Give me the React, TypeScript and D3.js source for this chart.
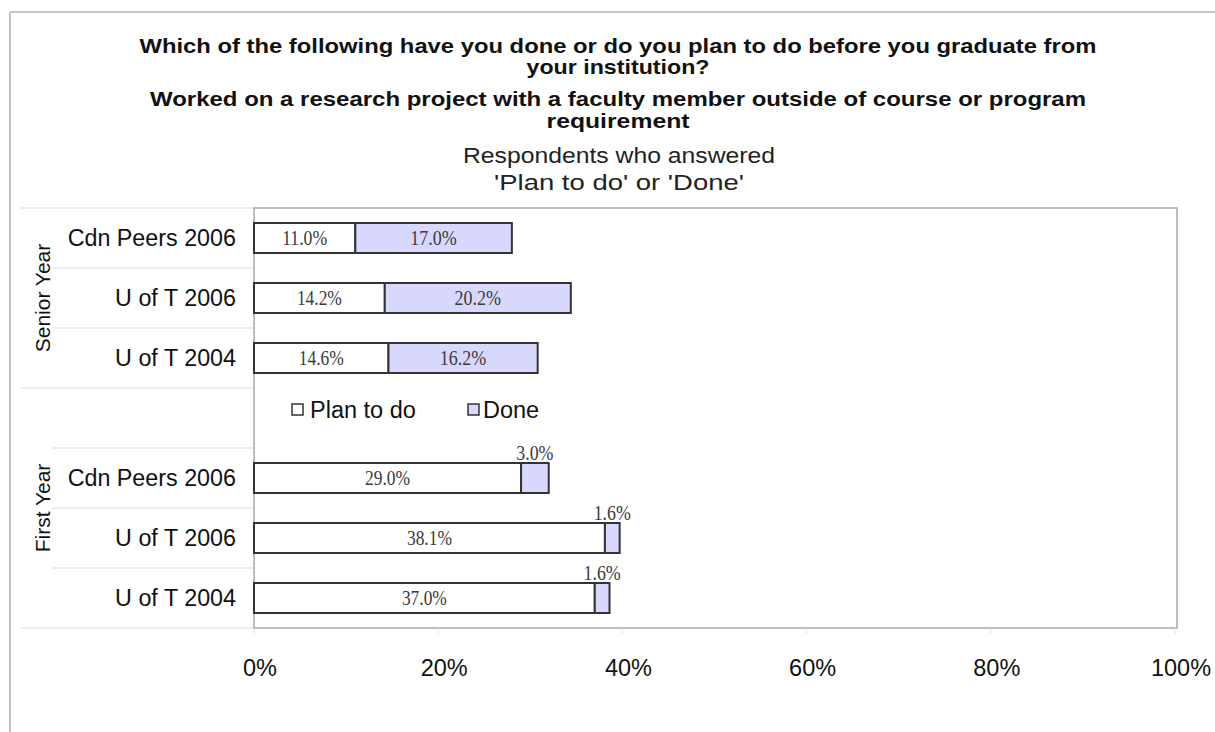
import React from "react";
import * as d3 from "d3";

const titleLines = [
  "Which of the following have you done or do you plan to do before you graduate from",
  "your institution?",
  "Worked on a research project with a faculty member outside of course or program",
  "requirement",
];
const subtitleLines = ["Respondents who answered", "'Plan to do' or 'Done'"];

const seniorCategories = ["Cdn Peers 2006", "U of T 2006", "U of T 2004"];
const seniorPlan = [11.0, 14.2, 14.6];
const seniorDone = [17.0, 20.2, 16.2];

const firstCategories = ["Cdn Peers 2006", "U of T 2006", "U of T 2004"];
const firstPlan = [29.0, 38.1, 37.0];
const firstDone = [3.0, 1.6, 1.6];

const groupLabels = ["Senior Year", "First Year"];
const seriesNames = ["Plan to do", "Done"];
const tickValues = [0, 20, 40, 60, 80, 100];

const W = 1215;
const H = 732;
const plotLeft = 254;
const plotRight = 1177;
const plotTop = 208;
const plotBottom = 628;

const rowKeys = ["S0", "S1", "S2", "gap", "F0", "F1", "F2"];

type Row = { key: string; label: string; plan: number; done: number };
const rows: Row[] = [
  ...seniorCategories.map((c, i) => ({ key: "S" + i, label: c, plan: seniorPlan[i], done: seniorDone[i] })),
  ...firstCategories.map((c, i) => ({ key: "F" + i, label: c, plan: firstPlan[i], done: firstDone[i] })),
];

const titleWidths = [957, 183, 936, 143];
const titleBaselines = [53, 74, 106, 128];
const subWidths = [312, 250];
const subBaselines = [163, 190];

export default function App() {
  const x = d3.scaleLinear().domain([0, 100]).range([plotLeft, 1175]);
  const y = d3.scaleBand<string>().domain(rowKeys).range([plotTop, plotBottom]).paddingInner(0.5).paddingOuter(0.25);
  const step = y.step();
  const sepYs = d3.range(rowKeys.length + 1).map((i) => plotTop + i * step);
  const longSeps = new Set([0, 3, 7]);
  const seniorCenter = (plotTop + plotTop + 3 * step) / 2;
  const firstCenter = (plotTop + 3 * step + plotBottom) / 2;
  const legendY = (y("gap") as number) + y.bandwidth() / 2 - 8;
  const sans = "'Liberation Sans', Arial, sans-serif";
  const serif = "'Liberation Serif', 'Times New Roman', serif";
  const valLabel = (v: number) => v.toFixed(1) + "%";

  return (
    <svg width={W} height={H} style={{ position: "absolute", left: 0, top: 0, background: "#fff" }}>
      {/* outer frame */}
      <line x1={10} y1={12} x2={W} y2={12} stroke="#c4c4c4" strokeWidth={2} />
      <line x1={10} y1={12} x2={10} y2={H} stroke="#c4c4c4" strokeWidth={2} />

      {titleLines.map((t, i) => (
        <text key={"t" + i} x={618} y={titleBaselines[i]} textAnchor="middle" fontFamily={sans} fontWeight="bold"
          fontSize={21} fill="#111" textLength={titleWidths[i]} lengthAdjust="spacingAndGlyphs">{t}</text>
      ))}
      {subtitleLines.map((t, i) => (
        <text key={"s" + i} x={619} y={subBaselines[i]} textAnchor="middle" fontFamily={sans}
          fontSize={22} fill="#222" textLength={subWidths[i]} lengthAdjust="spacingAndGlyphs">{t}</text>
      ))}

      {/* category separators */}
      {sepYs.map((sy, i) => (
        <line key={"sep" + i} x1={longSeps.has(i) ? 20 : 52} x2={plotLeft} y1={sy} y2={sy} stroke="#e8e8e8" strokeWidth={1.5} />
      ))}

      {/* plot frame */}
      <rect x={plotLeft} y={plotTop} width={plotRight - plotLeft} height={plotBottom - plotTop} fill="#fff" stroke="#a8a8a8" strokeWidth={1.5} />

      {/* tick marks */}
      {tickValues.map((t) => (
        <line key={"tk" + t} x1={x(t)} x2={x(t)} y1={plotBottom} y2={plotBottom + 6} stroke="#e4e4e4" strokeWidth={1} />
      ))}

      {/* bars */}
      {rows.map((r) => {
        const by = y(r.key) as number;
        const bh = y.bandwidth();
        const x0 = x(0);
        const x1 = x(r.plan);
        const x2 = x(r.plan + r.done);
        const doneInside = x2 - x1 > 40;
        const pl = valLabel(r.plan);
        const dl = valLabel(r.done);
        return (
          <g key={r.key}>
            <rect x={x0} y={by} width={x1 - x0} height={bh} fill="#ffffff" stroke="#333" strokeWidth={2} />
            <rect x={x1} y={by} width={x2 - x1} height={bh} fill="#d8d8ff" stroke="#333" strokeWidth={2} />
            <text x={(x0 + x1) / 2} y={by + bh / 2 + 7} textAnchor="middle" fontFamily={serif} fontSize={20} fill="#3a3a3a"
              textLength={pl.length * 9} lengthAdjust="spacingAndGlyphs">{pl}</text>
            <text x={(x1 + x2) / 2} y={doneInside ? by + bh / 2 + 7 : by - 3} textAnchor="middle" fontFamily={serif}
              fontSize={20} fill="#3a3a3a" textLength={dl.length * 9.3} lengthAdjust="spacingAndGlyphs">{dl}</text>
            <text x={236} y={by + bh / 2 + 8} textAnchor="end" fontFamily={sans} fontSize={23.3} fill="#111">{r.label}</text>
          </g>
        );
      })}

      {/* group labels */}
      <text transform={`translate(50,${seniorCenter}) rotate(-90)`} textAnchor="middle" fontFamily={sans} fontSize={21} fill="#111">{groupLabels[0]}</text>
      <text transform={`translate(50,${firstCenter}) rotate(-90)`} textAnchor="middle" fontFamily={sans} fontSize={21} fill="#111">{groupLabels[1]}</text>

      {/* legend */}
      <g>
        <rect x={292} y={legendY - 6} width={11} height={11} fill="#fff" stroke="#333" strokeWidth={1.5} />
        <text x={310} y={legendY + 8} fontFamily={sans} fontSize={23.5} fill="#111">{seriesNames[0]}</text>
        <rect x={468} y={legendY - 6} width={11} height={11} fill="#d8d8ff" stroke="#333" strokeWidth={1.5} />
        <text x={483} y={legendY + 8} fontFamily={sans} fontSize={23.5} fill="#111">{seriesNames[1]}</text>
      </g>

      {/* axis labels */}
      {tickValues.map((t) => (
        <text key={"lb" + t} x={x(t) + 6} y={676} textAnchor="middle" fontFamily={sans} fontSize={23.5} fill="#111">{t + "%"}</text>
      ))}
    </svg>
  );
}
